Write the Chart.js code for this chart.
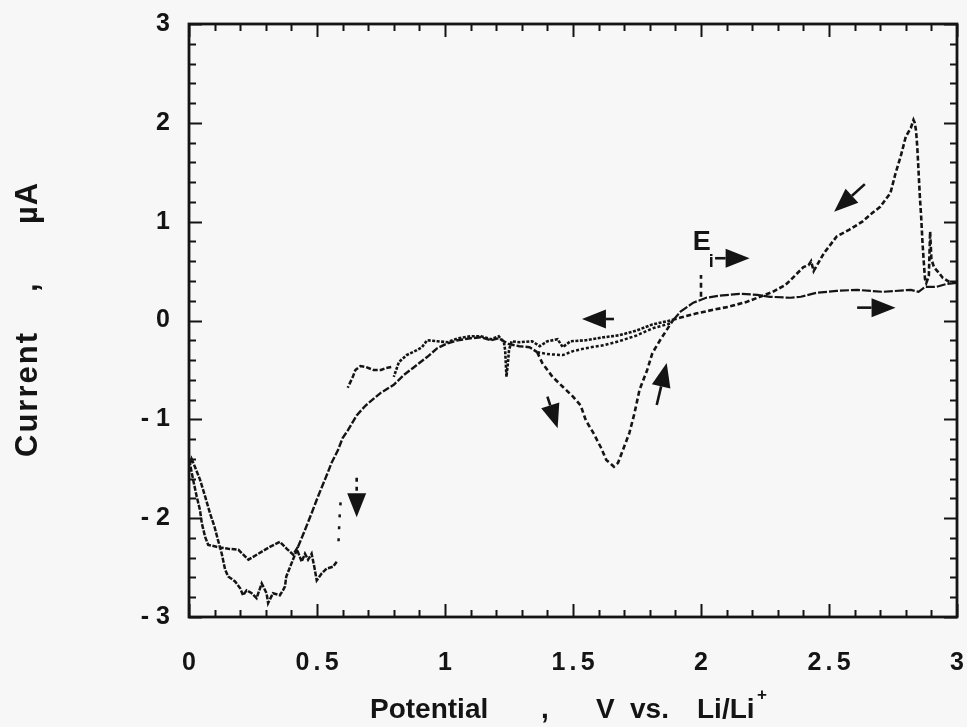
<!DOCTYPE html>
<html><head><meta charset="utf-8">
<script src="https://cdn.jsdelivr.net/npm/chart.js@4.4.1/dist/chart.umd.min.js"></script>
<style>html,body{margin:0;padding:0;background:#f7f7f7;} canvas{display:block;}</style>
</head><body>
<canvas id="c" width="967" height="727"></canvas>
<script>
// ---- axis ticks ----
const xTicks = [0, 0.5, 1, 1.5, 2, 2.5, 3];
const xTickLabels = ['0', '0.5', '1', '1.5', '2', '2.5', '3'];
const yTicks = [-3, -2, -1, 0, 1, 2, 3];
const yTickLabels = ['- 3', '- 2', '- 1', '0', '1', '2', '3'];

// ---- data: potential (V vs Li/Li+) and current (uA), traced per strand ----
// forward sweep (upper strand from crossing near 1.89 V out to 3 V)
const fwdV = [1.89, 1.92, 1.97, 2.02, 2.07, 2.15, 2.22, 2.27, 2.35, 2.39, 2.45, 2.53, 2.61, 2.71, 2.82, 2.85, 2.875, 2.92, 2.96, 3.0];
const fwdI = [0.0, 0.09, 0.18, 0.23, 0.25, 0.27, 0.26, 0.24, 0.23, 0.24, 0.28, 0.30, 0.31, 0.29, 0.31, 0.29, 0.34, 0.34, 0.37, 0.38];
// reverse from 3 V: spike and upper anodic branch down to the crossing
const revV = [3.0, 2.97, 2.945, 2.93, 2.91, 2.90, 2.895, 2.89, 2.88, 2.875, 2.87, 2.865, 2.86, 2.855, 2.85, 2.845, 2.84, 2.835, 2.83, 2.82, 2.80, 2.79, 2.78, 2.76, 2.74, 2.70, 2.67, 2.63, 2.58, 2.53, 2.48, 2.44, 2.43, 2.42, 2.40, 2.35, 2.33, 2.28, 2.23, 2.18, 2.11, 2.05, 1.98, 1.92, 1.88];
const revI = [0.38, 0.39, 0.43, 0.48, 0.54, 0.62, 0.90, 0.45, 0.38, 0.42, 0.60, 0.80, 1.05, 1.25, 1.50, 1.75, 1.92, 2.00, 2.03, 1.95, 1.86, 1.76, 1.66, 1.49, 1.29, 1.15, 1.09, 1.00, 0.92, 0.85, 0.68, 0.50, 0.60, 0.56, 0.54, 0.41, 0.36, 0.29, 0.24, 0.19, 0.14, 0.11, 0.07, 0.03, 0.0];
// reverse continued along the plateau towards low potential
const plateauV = [1.88, 1.81, 1.75, 1.68, 1.62, 1.55, 1.49, 1.46, 1.44, 1.40, 1.37, 1.34, 1.29, 1.26, 1.25, 1.245, 1.24, 1.235, 1.23, 1.21, 1.18, 1.14, 1.10, 1.05, 1.01, 0.97, 0.93, 0.91, 0.89, 0.85, 0.82, 0.80];
const plateauI = [0.0, -0.04, -0.10, -0.15, -0.17, -0.20, -0.21, -0.27, -0.19, -0.21, -0.26, -0.21, -0.22, -0.21, -0.30, -0.45, -0.57, -0.30, -0.22, -0.16, -0.19, -0.16, -0.16, -0.18, -0.22, -0.21, -0.20, -0.27, -0.30, -0.35, -0.42, -0.57];
// second strand of the plateau band
const bandV = [1.36, 1.40, 1.46, 1.50, 1.55, 1.62, 1.68, 1.75, 1.81, 1.88];
const bandI = [-0.32, -0.34, -0.35, -0.31, -0.28, -0.25, -0.21, -0.15, -0.08, -0.03];
// short piece near -0.5 uA
const shelfV = [0.79, 0.77, 0.75, 0.72, 0.69, 0.67, 0.65, 0.64, 0.62];
const shelfI = [-0.47, -0.48, -0.50, -0.50, -0.47, -0.46, -0.50, -0.57, -0.68];
// sparse drop at 0.59 V
const dropV = [0.592, 0.588, 0.584];
const dropI = [-1.84, -2.00, -2.24];
// low-potential region: middle strand, turn at 0 V, lowest strand
const lowV = [0.577, 0.563, 0.538, 0.518, 0.499, 0.49, 0.479, 0.465, 0.453, 0.44, 0.421, 0.407, 0.382, 0.355, 0.316, 0.271, 0.232, 0.193, 0.154, 0.108, 0.075, 0.063, 0.05, 0.043, 0.03, 0.016, 0.004, 0.01, 0.023, 0.043, 0.063, 0.082, 0.10, 0.113, 0.128, 0.141, 0.153, 0.18, 0.20, 0.211, 0.225, 0.245, 0.264, 0.284, 0.303, 0.309, 0.328, 0.355, 0.367, 0.375, 0.38, 0.40, 0.426];
const lowI = [-2.44, -2.49, -2.51, -2.56, -2.63, -2.50, -2.36, -2.42, -2.36, -2.44, -2.31, -2.37, -2.31, -2.24, -2.29, -2.36, -2.42, -2.32, -2.31, -2.29, -2.27, -2.19, -2.05, -1.92, -1.78, -1.61, -1.45, -1.40, -1.48, -1.61, -1.78, -1.95, -2.09, -2.22, -2.36, -2.52, -2.59, -2.64, -2.71, -2.78, -2.73, -2.76, -2.81, -2.66, -2.76, -2.86, -2.76, -2.78, -2.73, -2.69, -2.59, -2.46, -2.29];
// rising branch back up to the plateau
const riseV = [0.426, 0.453, 0.479, 0.504, 0.531, 0.557, 0.582, 0.60, 0.621, 0.655, 0.69, 0.75, 0.80, 0.84, 0.875, 0.93, 0.97, 1.01, 1.05, 1.10, 1.14, 1.18, 1.21, 1.25, 1.29, 1.33, 1.36];
const riseI = [-2.29, -2.12, -1.95, -1.78, -1.61, -1.44, -1.31, -1.19, -1.11, -0.96, -0.86, -0.73, -0.65, -0.55, -0.48, -0.37, -0.28, -0.23, -0.20, -0.18, -0.17, -0.20, -0.18, -0.24, -0.26, -0.27, -0.32];
// cathodic peak loop
const loopV = [1.36, 1.38, 1.42, 1.46, 1.50, 1.53, 1.55, 1.58, 1.61, 1.63, 1.66, 1.676, 1.695, 1.72, 1.74, 1.76, 1.79, 1.81, 1.84, 1.87, 1.89];
const loopI = [-0.32, -0.43, -0.57, -0.67, -0.77, -0.86, -1.01, -1.14, -1.29, -1.41, -1.48, -1.44, -1.31, -1.14, -0.94, -0.70, -0.50, -0.33, -0.20, -0.08, 0.0];
// initial potential marker
const eiV = [2.0, 2.0];
const eiI = [0.24, 0.46];

// ---- direction arrows (tail, tip) in data units ----
const arrowTail = [[2.055, 0.63], [2.64, 1.38], [2.61, 0.13], [1.66, 0.015], [1.40, -0.77], [1.827, -0.855], [0.655, -1.59]];
const arrowTip  = [[2.19, 0.63], [2.52, 1.10], [2.76, 0.13], [1.535, 0.015], [1.44, -1.09], [1.866, -0.43], [0.655, -1.99]];

const INK = '#141414';
const FONT = '"Liberation Sans", Arial, Helvetica, sans-serif';

function pts(v, i) { return v.map((x, k) => ({ x: x, y: i[k] })); }
function seg(v, i, dash, w) {
  return { data: pts(v, i), showLine: true, borderColor: INK, backgroundColor: INK,
    borderWidth: w, borderDash: dash, pointRadius: 0, tension: 0, fill: false };
}

const decor = {
  id: 'decor',
  beforeDraw(chart) {
    const c = chart.ctx;
    c.save(); c.fillStyle = '#f7f7f7'; c.fillRect(0, 0, chart.width, chart.height); c.restore();
  },
  afterDraw(chart) {
    const c = chart.ctx;
    const { left, right, top, bottom } = chart.chartArea;
    const xs = chart.scales.x, ys = chart.scales.y;
    c.save();
    c.strokeStyle = INK; c.fillStyle = INK; c.lineCap = 'butt';
    // frame
    c.lineWidth = 2.8;
    c.strokeRect(left, top, right - left, bottom - top);
    // ticks (inward)
    c.lineWidth = 2;
    c.beginPath();
    for (let k = 0; k <= 30; k++) {
      const px = Math.round(xs.getPixelForValue(k / 10)) + 0.5;
      const L = (k % 5 === 0) ? 13 : 7;
      c.moveTo(px, bottom); c.lineTo(px, bottom - L);
      c.moveTo(px, top); c.lineTo(px, top + L);
    }
    for (let k = 0; k <= 30; k++) {
      const py = Math.round(ys.getPixelForValue(-3 + k * 0.2)) + 0.5;
      const L = (k % 5 === 0) ? 13 : 7;
      c.moveTo(left, py); c.lineTo(left + L, py);
      c.moveTo(right, py); c.lineTo(right - L, py);
    }
    c.stroke();

    // arrows
    for (let k = 0; k < arrowTip.length; k++) {
      const x1 = xs.getPixelForValue(arrowTail[k][0]), y1 = ys.getPixelForValue(arrowTail[k][1]);
      const x2 = xs.getPixelForValue(arrowTip[k][0]), y2 = ys.getPixelForValue(arrowTip[k][1]);
      const a = Math.atan2(y2 - y1, x2 - x1);
      const hl = 24, hw = 9.5;
      const bx = x2 - hl * Math.cos(a), by = y2 - hl * Math.sin(a);
      c.lineWidth = 2.6;
      c.setLineDash(k === 6 ? [4, 5] : []);
      c.beginPath(); c.moveTo(x1, y1); c.lineTo(bx, by); c.stroke();
      c.setLineDash([]);
      c.beginPath();
      c.moveTo(x2, y2);
      c.lineTo(bx + hw * Math.sin(a), by - hw * Math.cos(a));
      c.lineTo(bx - hw * Math.sin(a), by + hw * Math.cos(a));
      c.closePath(); c.fill();
    }

    // E_i label
    c.textAlign = 'left'; c.textBaseline = 'alphabetic';
    c.font = 'bold 27px ' + FONT;
    c.fillText('E', xs.getPixelForValue(1.968), ys.getPixelForValue(0.715));
    c.font = 'bold 18px ' + FONT;
    c.fillText('i', xs.getPixelForValue(2.03), ys.getPixelForValue(0.54));

    // x axis title
    const by = 718;
    c.font = 'bold 28px ' + FONT;
    c.fillText('Potential', 370, by);
    c.fillText(',', 541, by);
    c.fillText('V', 596, by);
    c.fillText('vs.', 630, by);
    c.fillText('Li/Li', 697, by);
    c.font = 'bold 17px ' + FONT;
    c.fillText('+', 757, 700);

    // y axis title (rotated)
    c.translate(37, 0);
    c.rotate(-Math.PI / 2);
    c.font = 'bold 31px ' + FONT;
    c.letterSpacing = '2px';
    c.fillText('Current', -457, 0);
    c.fillText(',', -292, 0);
    c.letterSpacing = '1px';
    c.fillText('\u00b5A', -224, 0);
    c.restore();
  }
};

new Chart(document.getElementById('c'), {
  type: 'scatter',
  data: {
    datasets: [
      seg(fwdV, fwdI, [9, 2], 2.2),
      seg(revV, revI, [5, 2.5], 2.6),
      seg(plateauV, plateauI, [3, 1.5], 2.6),
      seg(bandV, bandI, [3, 2], 2.5),
      seg(shelfV, shelfI, [5, 2], 2.5),
      seg(dropV, dropI, [3, 9], 2.5),
      seg(lowV, lowI, [5, 1.5], 2.5),
      seg(riseV, riseI, [7, 2], 2.4),
      seg(loopV, loopI, [5, 3], 2.6),
      seg(eiV, eiI, [5, 4], 2.6)
    ]
  },
  options: {
    responsive: false,
    animation: false,
    devicePixelRatio: 1,
    layout: { padding: { left: 0, right: 10, top: 24, bottom: 0 } },
    plugins: { legend: { display: false }, tooltip: { enabled: false }, title: { display: false } },
    scales: {
      x: {
        type: 'linear', min: 0, max: 3,
        afterBuildTicks: s => { s.ticks = xTicks.map(v => ({ value: v })); },
        afterFit: s => { s.height = 110; },
        grid: { display: false, drawTicks: true, tickLength: 31 },
        border: { display: false },
        ticks: {
          autoSkip: false, maxRotation: 0, padding: 0, color: INK,
          font: { family: FONT, size: 25, weight: 'bold' },
          callback: (v, i) => xTickLabels[i].replace('.', '\u2006.\u2006')
        }
      },
      y: {
        type: 'linear', min: -3, max: 3,
        afterBuildTicks: s => { s.ticks = yTicks.map(v => ({ value: v })); },
        afterFit: s => { s.width = 189; },
        grid: { display: false, drawTicks: true, tickLength: 19 },
        border: { display: false },
        ticks: {
          autoSkip: false, padding: 0, color: INK,
          font: { family: FONT, size: 25, weight: 'bold' },
          callback: (v, i) => yTickLabels[i]
        }
      }
    }
  },
  plugins: [decor]
});
</script>
</body></html>
